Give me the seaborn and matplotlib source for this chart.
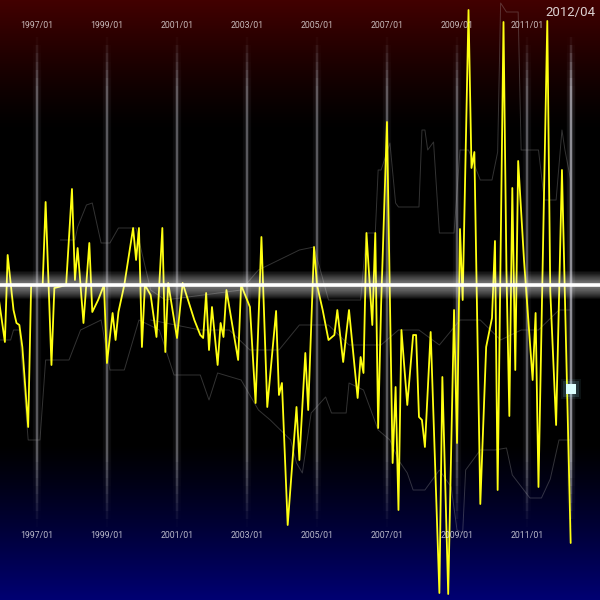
import numpy as np
import pandas as pd
import matplotlib
matplotlib.use("Agg")
import matplotlib.pyplot as plt
import matplotlib.dates as mdates
import matplotlib.transforms as mtransforms
import seaborn as sns

# main series (yellow)
yellow_dates = ["1995-12", "1996-02", "1996-03", "1996-05", "1996-06", "1996-07", "1996-08", "1996-10",
                "1996-11", "1997-03", "1997-04", "1997-06", "1997-07", "1997-11", "1998-01", "1998-02",
                "1998-03", "1998-05", "1998-07", "1998-08", "1998-10", "1998-12", "1999-01", "1999-03",
                "1999-04", "1999-05", "1999-07", "1999-10", "1999-11", "1999-12", "2000-01", "2000-02",
                "2000-04", "2000-06", "2000-08", "2000-09", "2000-10", "2001-01", "2001-03", "2001-07",
                "2001-09", "2001-10", "2001-11", "2001-12", "2002-01", "2002-03", "2002-04", "2002-05",
                "2002-06", "2002-10", "2002-11", "2003-02", "2003-04", "2003-06", "2003-08", "2003-11",
                "2003-12", "2004-01", "2004-03", "2004-06", "2004-07", "2004-09", "2004-10", "2004-12",
                "2005-01", "2005-03", "2005-05", "2005-07", "2005-08", "2005-10", "2005-11", "2005-12",
                "2006-03", "2006-04", "2006-05", "2006-06", "2006-08", "2006-09", "2006-10", "2006-11",
                "2007-01", "2007-03", "2007-04", "2007-05", "2007-06", "2007-08", "2007-10", "2007-11",
                "2007-12", "2008-01", "2008-02", "2008-04", "2008-07", "2008-08", "2008-10", "2008-12",
                "2009-01", "2009-02", "2009-03", "2009-05", "2009-06", "2009-07", "2009-09", "2009-11",
                "2010-01", "2010-02", "2010-03", "2010-05", "2010-06", "2010-07", "2010-08", "2010-09",
                "2010-10", "2010-12", "2011-03", "2011-04", "2011-05", "2011-08", "2011-09", "2011-11",
                "2012-01", "2012-04"]
yellow_vals = [-1.5, -5.7, 3.0, -2.5, -3.8, -4.0, -6.2, -14.2,
               0.0, 0.0, 8.3, -8.0, -0.3, 0.0, 9.6, 0.5,
               3.7, -3.8, 4.2, -2.7, -1.5, 0.0, -7.8, -2.8,
               -5.5, -2.7, 0.0, 5.7, 2.5, 5.7, -6.2, 0.0,
               -1.0, -5.2, 5.7, -6.7, 0.2, -5.3, 0.2, -3.5,
               -5.0, -5.3, -0.8, -6.5, -2.2, -8.0, -3.8, -5.2,
               -0.5, -7.5, 0.0, -2.2, -11.8, 4.8, -12.2, -2.6,
               -11.0, -9.8, -24.0, -12.2, -17.5, -6.8, -12.5, 3.8,
               0.0, -2.5, -5.5, -5.0, -2.5, -7.7, -5.0, -2.5,
               -11.3, -7.2, -8.8, 5.2, -4.0, 5.2, -14.3, -2.0,
               16.3, -17.8, -10.2, -22.5, -4.5, -12.0, -5.0, -5.0,
               -13.2, -13.5, -16.2, -4.7, -30.8, -9.2, -30.9, -2.5,
               -15.8, 5.6, -1.5, 27.5, 11.7, 13.3, -21.9, -6.2,
               -3.3, 4.4, -20.5, 26.3, 1.3, -13.1, 9.7, -8.5,
               12.4, 2.5, -9.5, -2.8, -20.2, 26.4, -0.6, -14.0,
               11.5, -25.8]

# faint grey series behind
grey_a_dates = ["1997-09", "1998-02", "1998-03", "1998-06", "1998-08", "1998-11", "1999-02", "1999-05",
                "1999-11", "2000-04", "2000-09", "2002-11", "2003-05", "2004-07", "2004-12", "2005-05",
                "2006-04", "2006-06", "2006-09", "2006-10", "2006-11", "2007-02", "2007-04", "2007-05",
                "2007-12", "2008-01", "2008-02", "2008-03", "2008-05", "2008-07", "2008-12", "2009-02",
                "2009-05", "2009-09", "2010-01", "2010-03", "2010-04", "2010-06", "2010-10", "2010-11",
                "2011-05", "2011-07", "2011-11", "2012-01", "2012-02", "2012-04"]
grey_a_vals = [4.5, 4.5, 5.8, 8.0, 8.2, 4.2, 4.2, 5.7,
               5.7, -0.5, -1.5, -0.5, 1.5, 3.5, 3.8, -1.5,
               -1.5, 5.2, 5.2, 11.5, 11.5, 14.2, 8.2, 7.8,
               7.8, 15.5, 15.5, 13.5, 14.3, 5.2, 5.2, 13.5,
               13.5, 10.5, 10.5, 13.3, 28.2, 27.3, 27.3, 13.5,
               13.5, 8.5, 8.5, 15.5, 13.5, 10.5]

grey_b_dates = ["1995-12", "1996-04", "1996-05", "1996-07", "1996-10", "1997-02", "1997-04", "1997-12",
                "1998-04", "1998-11", "1999-02", "1999-07", "1999-12", "2000-07", "2000-12", "2001-09",
                "2001-12", "2002-03", "2002-11", "2003-05", "2003-09", "2004-04", "2004-06", "2004-08",
                "2004-11", "2005-04", "2005-06", "2005-11", "2005-12", "2006-05", "2006-10", "2007-02",
                "2007-05", "2007-08", "2007-10", "2008-02", "2008-07", "2008-11", "2009-01", "2009-03",
                "2009-04", "2009-09", "2010-02", "2010-06", "2010-08", "2011-02", "2011-06", "2011-09",
                "2011-12", "2012-04"]
grey_b_vals = [-5.5, -5.5, -4.5, -4.5, -15.5, -15.5, -7.5, -7.5,
               -4.5, -3.5, -8.5, -8.5, -3.5, -4.5, -9.0, -9.0,
               -11.5, -8.8, -9.5, -12.5, -13.5, -15.5, -17.8, -18.8,
               -12.8, -11.2, -12.8, -12.8, -9.8, -10.5, -14.5, -15.5,
               -17.5, -18.8, -20.5, -20.5, -18.5, -20.2, -24.5, -24.8,
               -18.5, -16.5, -16.5, -16.3, -19.0, -21.3, -21.3, -19.4,
               -15.5, -15.5]

grey_c_dates = ["2000-04", "2001-09", "2002-07", "2003-02", "2003-12", "2004-07", "2005-05", "2005-12",
                "2006-11", "2007-05", "2007-12", "2008-07", "2009-02", "2009-09", "2010-04", "2010-11",
                "2011-05", "2011-12", "2012-04"]
grey_c_vals = [-3.5, -4.5, -4.5, -6.5, -6.5, -4.0, -4.0, -6.0,
               -6.0, -4.5, -4.5, -6.0, -3.5, -3.5, -5.5, -4.5,
               -4.5, -2.5, -2.5]

tick_labels = ["1997/01", "1999/01", "2001/01", "2003/01", "2005/01", "2007/01", "2009/01", "2011/01"]
current_label = "2012/04"
current_value = -10.4

sns.set_style("dark")
plt.rcParams['font.family'] = ['Roboto', 'DejaVu Sans']

fig = plt.figure(figsize=(6, 6), dpi=100)
ax = fig.add_axes([0, 0, 1, 1])

# background: dark red on top, black middle, navy at bottom
t = np.linspace(0, 1, 600)
red = 0.26 * np.clip(1 - t / 0.22, 0, 1) ** 1.3
blue = 0.45 * np.clip((t - 0.74) / 0.26, 0, 1) ** 1.2
grad = np.zeros((600, 1, 3))
grad[:, 0, 0] = red
grad[:, 0, 2] = blue
ax.imshow(grad, extent=[0, 1, 0, 1], transform=ax.transAxes, aspect="auto", zorder=0)

# glowing vertical date lines
def glow_vline(x, base):
    ys = np.linspace(-24.2, 24.8, 61)
    pos = (ys[:-1] + ys[1:]) / 2
    ramp = np.clip(np.minimum((pos - ys[0]) / 7, (ys[-1] - pos) / 5), 0, 1)
    xs = [x] * len(pos)
    for lw, a in [(6, 0.06), (3, 0.12), (1.2, 0.45)]:
        cols = [(0.88, 0.88, 0.92, min(1, a * base * r)) for r in ramp]
        ax.vlines(xs, ys[:-1], ys[1:], colors=cols, lw=lw, zorder=1)

tick_dates = [pd.Timestamp(s.replace("/", "-") + "-01") for s in tick_labels]
for d in tick_dates:
    glow_vline(d, 0.8)
current_date = pd.Timestamp(current_label.replace("/", "-") + "-01")
glow_vline(current_date, 1.4)

# grey background series
grey = pd.concat([
    pd.DataFrame({"date": pd.to_datetime(grey_a_dates), "value": grey_a_vals, "series": "a"}),
    pd.DataFrame({"date": pd.to_datetime(grey_b_dates), "value": grey_b_vals, "series": "b"}),
    pd.DataFrame({"date": pd.to_datetime(grey_c_dates), "value": grey_c_vals, "series": "c"}),
])
sns.lineplot(data=grey, x="date", y="value", hue="series", palette=["#a8a8a8"] * 3,
             lw=0.7, alpha=0.3, legend=False, estimator=None, ax=ax, zorder=2)

# main yellow series
main = pd.DataFrame({"date": pd.to_datetime(yellow_dates), "value": yellow_vals})
sns.lineplot(data=main, x="date", y="value", color="#ffff10", lw=1.3, estimator=None, ax=ax, zorder=3)

# horizontal zero line with a soft glow
for lw in np.linspace(20, 3, 12):
    ax.axhline(0, color="white", lw=lw, alpha=0.05, zorder=5)
ax.axhline(0, color="white", lw=2.6, zorder=6)

# current value marker
for s, a in [(200, 0.08), (120, 0.15)]:
    ax.scatter([current_date], [current_value], marker="s", s=s, color="#9feeff", alpha=a,
               lw=0, zorder=7)
ax.scatter([current_date], [current_value], marker="s", s=55, color="#dcffff", lw=0, zorder=8)

# date labels top and bottom
trans = mtransforms.blended_transform_factory(ax.transData, ax.transAxes)
for d, lab in zip(tick_dates, tick_labels):
    ax.text(mdates.date2num(d), 0.958, lab, transform=trans, ha="center", va="center",
            fontsize=6.3, color="white", alpha=0.72, zorder=9)
    ax.text(mdates.date2num(d), 0.108, lab, transform=trans, ha="center", va="center",
            fontsize=6.3, color="white", alpha=0.72, zorder=9)
ax.text(mdates.date2num(current_date), 0.979, current_label, transform=trans, ha="center",
        va="center", fontsize=9.5, color="white", alpha=0.82, zorder=9)

ax.set_xlim(pd.Timestamp("1995-12-12"), pd.Timestamp("2013-02-01"))
ax.set_ylim(-31.5, 28.5)
ax.axis("off")

fig.savefig("out.png", dpi=100, facecolor="black")
